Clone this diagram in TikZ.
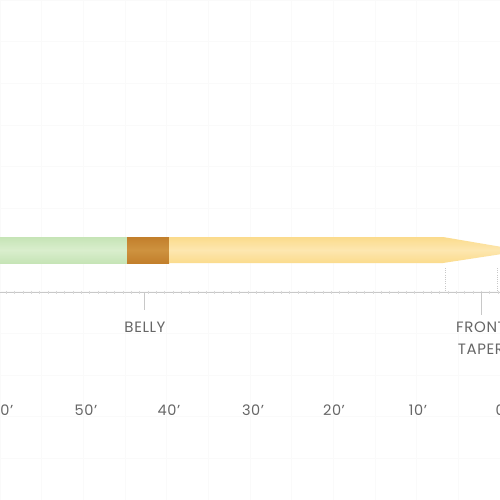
\documentclass[tikz,border=0pt]{standalone}
\usepackage{fontspec}
\setmainfont{Poppins}[LetterSpace=4]
\definecolor{linegreen}{HTML}{C6E4B6}
\definecolor{linegreenhi}{HTML}{D9EECD}
\definecolor{linebrown}{HTML}{C27F2B}
\definecolor{linebrownhi}{HTML}{CE923F}
\definecolor{lineyellow}{HTML}{FBDB8C}
\definecolor{lineyellowhi}{HTML}{FDE7B0}
\definecolor{txtgray}{HTML}{666666}
\definecolor{axisgray}{HTML}{C8C8C8}
\begin{document}
\begin{tikzpicture}[x=1pt,y=-1pt,
  lbl/.style={font=\fontsize{15}{22}\selectfont, text=txtgray, inner sep=0pt, align=center},
  scalelbl/.style={font=\fontsize{14.5}{17}\selectfont, text=txtgray, inner sep=0pt},
  marker/.style={draw=axisgray, line width=0.7pt},
  dotmark/.style={draw=axisgray, line width=0.8pt, dash pattern=on 1pt off 1.2pt}]
\useasboundingbox (0,0) rectangle (500,500);
\clip (0,0) rectangle (500,500);
\fill[white] (0,0) rectangle (500,500);
% faint background grid
\foreach \i in {0,...,12} {
  \draw[black!2, line width=0.6pt] ({\i*41.67},0) -- ({\i*41.67},500);
  \draw[black!2, line width=0.6pt] (0,{\i*41.67}) -- (500,{\i*41.67});
}
% fly line body
\shade[top color=linegreen, bottom color=linegreen, middle color=linegreenhi] (-2,237) rectangle (127,263);
\shade[top color=linebrown, bottom color=linebrown, middle color=linebrownhi] (127,237) rectangle (169,263);
\shade[top color=lineyellow, bottom color=lineyellow, middle color=lineyellowhi] (169,237) -- (443,237) -- (502,247) -- (502,254) -- (443,263) -- (169,263) -- cycle;
% axis
\coordinate (axL) at (0,292);
\coordinate (axR) at (500,292);
\draw[axisgray, line width=0.6pt] (axL) -- (axR);
\foreach \f in {-1,...,60} {
  \draw[axisgray!70, line width=0.5pt] ({498-8.333*\f},290.5) -- ({498-8.333*\f},293.5);
}
% dotted taper markers
\coordinate (d1a) at (445,268);
\coordinate (d1b) at (445,291);
\coordinate (d2a) at (497,268);
\coordinate (d2b) at (497,291);
\draw[dotmark] (d1a) -- (d1b);
\draw[dotmark] (d2a) -- (d2b);
% section labels
\node[lbl] (belly) at (145,327) {BELLY};
\node[lbl] (front) at (481,338) {FRONT\\TAPER};
\coordinate (bellytop) at (144,292);
\coordinate (fronttop) at (481,292);
\draw[marker] (bellytop) -- ++(0,18);
\draw[marker] (fronttop) -- ++(0,23);
% scale labels
\node[scalelbl] (s60) at (2,410) {60'};
\node[scalelbl] (s50) at (86,410) {50'};
\node[scalelbl] (s40) at (169,410) {40'};
\node[scalelbl] (s30) at (253,410) {30'};
\node[scalelbl] (s20) at (334,410) {20'};
\node[scalelbl] (s10) at (418,410) {10'};
\node[scalelbl] (s0) at (502,410) {0'};
\end{tikzpicture}
\end{document}
